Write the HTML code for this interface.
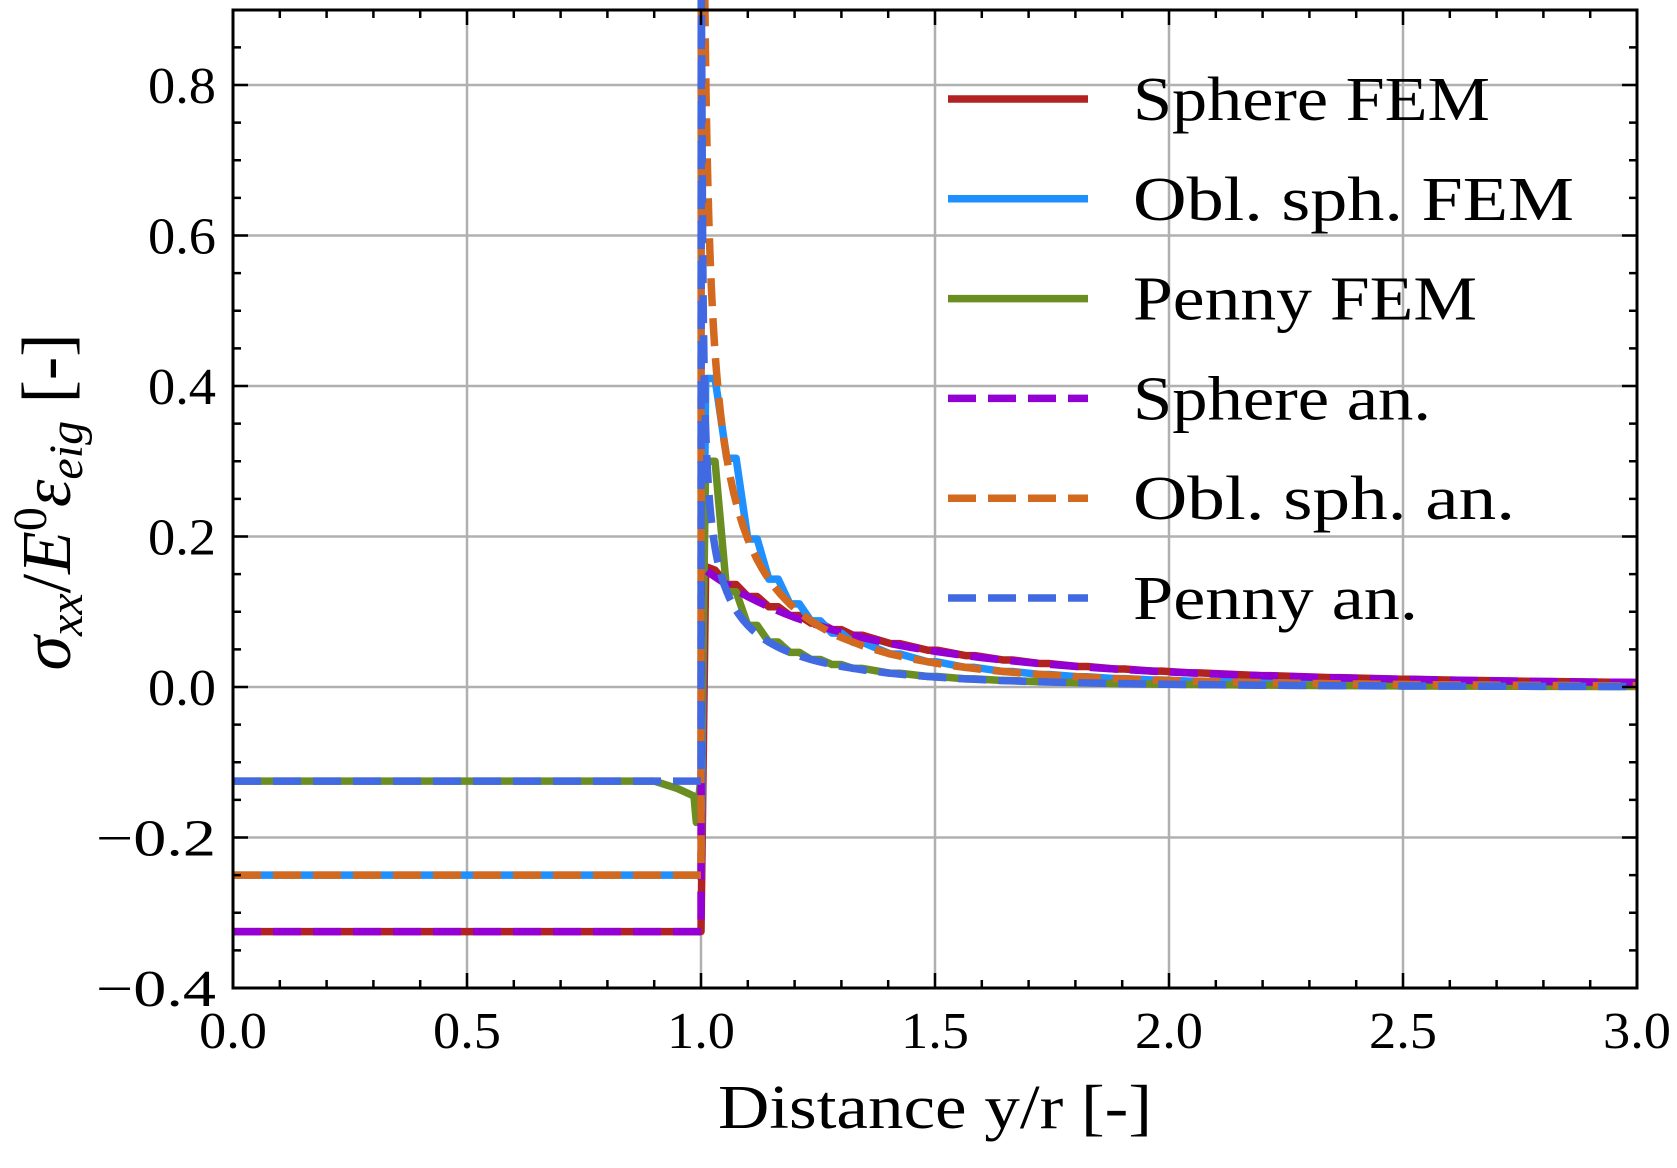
<!DOCTYPE html>
<html><head><meta charset="utf-8"><style>
html,body{margin:0;padding:0;background:#fff;}
svg{display:block;}
text{font-family:"Liberation Serif",serif;fill:#000;}
</style></head><body>
<svg id="s" width="1677" height="1168" xmlns="http://www.w3.org/2000/svg">
<rect width="1677" height="1168" fill="#fff"/>
<g id="grid"></g>
<g id="curves"></g>
<g id="ticks"></g>
<rect x="233" y="10" width="1404" height="978" fill="none" stroke="#000" stroke-width="3"/>
<g font-size="52" text-anchor="middle" id="xl"></g>
<g font-size="52" text-anchor="end" id="yl"></g>
<text x="935" y="1128" font-size="62" text-anchor="middle" textLength="434" lengthAdjust="spacingAndGlyphs">Distance y/r [-]</text>
<text transform="translate(70,502) rotate(-90)" font-size="70" text-anchor="middle"><tspan font-style="italic">σ</tspan><tspan font-style="italic" font-size="48" dy="12">xx</tspan><tspan dy="-12">/</tspan><tspan font-style="italic">E</tspan><tspan font-size="48" dy="-24">0</tspan><tspan font-style="italic" dy="24">ε</tspan><tspan font-style="italic" font-size="48" dy="12">eig</tspan><tspan dy="-12"> [-]</tspan></text>
<g id="leg" font-size="62"></g>
</svg>
<script>
const NS="http://www.w3.org/2000/svg";
const X=x=>233+468*x, Y=v=>988-752.5*(v+0.4);
function el(p,t,a,txt){const e=document.createElementNS(NS,t);for(const k in a)e.setAttribute(k,a[k]);if(txt!==undefined)e.textContent=txt;document.getElementById(p).appendChild(e);return e;}
for(let i=1;i<6;i++){el('grid','line',{x1:X(i*0.5),x2:X(i*0.5),y1:10,y2:988,stroke:'#b0b0b0','stroke-width':2.5});}
for(let v=-0.2;v<0.85;v+=0.2){el('grid','line',{x1:233,x2:1637,y1:Y(v),y2:Y(v),stroke:'#b0b0b0','stroke-width':2.5});}
for(let i=0;i<=30;i++){const x=X(i/10),L=i%5==0?15:8;
 el('ticks','line',{x1:x,x2:x,y1:988,y2:988-L,stroke:'#000','stroke-width':2.5});
 el('ticks','line',{x1:x,x2:x,y1:10,y2:10+L,stroke:'#000','stroke-width':2.5});}
for(let i=0;i<=26;i++){const v=-0.4+i*0.05,y=Y(v),L=i%4==0?15:8;
 el('ticks','line',{x1:233,x2:233+L,y1:y,y2:y,stroke:'#000','stroke-width':2.5});
 el('ticks','line',{x1:1637,x2:1637-L,y1:y,y2:y,stroke:'#000','stroke-width':2.5});}
['0.0','0.5','1.0','1.5','2.0','2.5','3.0'].forEach((t,i)=>el('xl','text',{x:X(i*0.5),y:1048,textLength:68,lengthAdjust:'spacingAndGlyphs'},t));
['−0.4','−0.2','0.0','0.2','0.4','0.6','0.8'].forEach((t,i)=>el('yl','text',{x:216,y:Y(-0.4+i*0.2)+18,textLength:i<2?120:68,lengthAdjust:'spacingAndGlyphs'},t));
const sph=x=>0.16/(x*x*x);
const obl=x=>0.12/(x*x*x*Math.sqrt(x*x-1));
const pen=x=>0.05/(x*x*x*Math.sqrt(x*x-1));
function path(inside,f,step,peak,pre){
 let d=`M${X(0)},${Y(inside)}`;
 if(pre){d+=` L${X(0.9)},${Y(inside)} L${X(0.95)},${Y(inside-0.01)} L${X(0.985)},${Y(inside-0.02)} L${X(0.99)},${Y(pre)}`;}
 d+=` L${X(0.999)},${Y(inside)} L${X(1.0)},${Y(inside)}`;
 if(step){
  d+=` L${X(1.01)},${Y(peak)}`;
  let x=1.01;
  while(x<3){const nx=x+(x<1.3?0.045:x<2?0.08:0.15);const v=Math.min(peak,f(Math.min(nx,3)));
   d+=` L${X(x+0.02)},${Y(Math.min(peak,f(x)))} L${X(Math.min(nx,3))},${Y(v)}`;x=nx;}
 }else{
  for(let x=1.0005;x<=3;x+= (x<1.05?0.0015:x<1.3?0.01:0.05)){d+=` L${X(x)},${Y(Math.min(0.95,f(x)))}`;}
  d+=` L${X(3)},${Y(f(3))}`;
 }
 return d;
}
const C=[
 ['#b22222',path(-0.325,sph,true,0.16),false],
 ['#1e90ff',path(-0.25,obl,true,0.41),false],
 ['#6b8e23',path(-0.125,pen,true,0.3,-0.18),false],
 ['#9400d3',path(-0.325,x=>x<1.0001?0.16:sph(x),false),true],
 ['#d2691e',path(-0.25,obl,false),true],
 ['#4169e1',path(-0.125,pen,false),true]];
C.forEach(c=>{const a={d:c[1],fill:'none',stroke:c[0],'stroke-width':7.5,'stroke-linejoin':'round'};if(c[2])a['stroke-dasharray']='28,12';el('curves','path',a);});
const L=[['#b22222','Sphere FEM',0,357],['#1e90ff','Obl. sph. FEM',0,441],['#6b8e23','Penny FEM',0,344],['#9400d3','Sphere an.',1,298],['#d2691e','Obl. sph. an.',1,382],['#4169e1','Penny an.',1,285]];
L.forEach((l,i)=>{const y=99+i*99.8;const a={x1:948,x2:1088,y1:y,y2:y,stroke:l[0],'stroke-width':7.5};if(l[2])a['stroke-dasharray']='28,12';el('leg','line',a);el('leg','text',{x:1133,y:y+21,textLength:l[3],lengthAdjust:'spacingAndGlyphs'},l[1]);});
</script>
</body></html>
